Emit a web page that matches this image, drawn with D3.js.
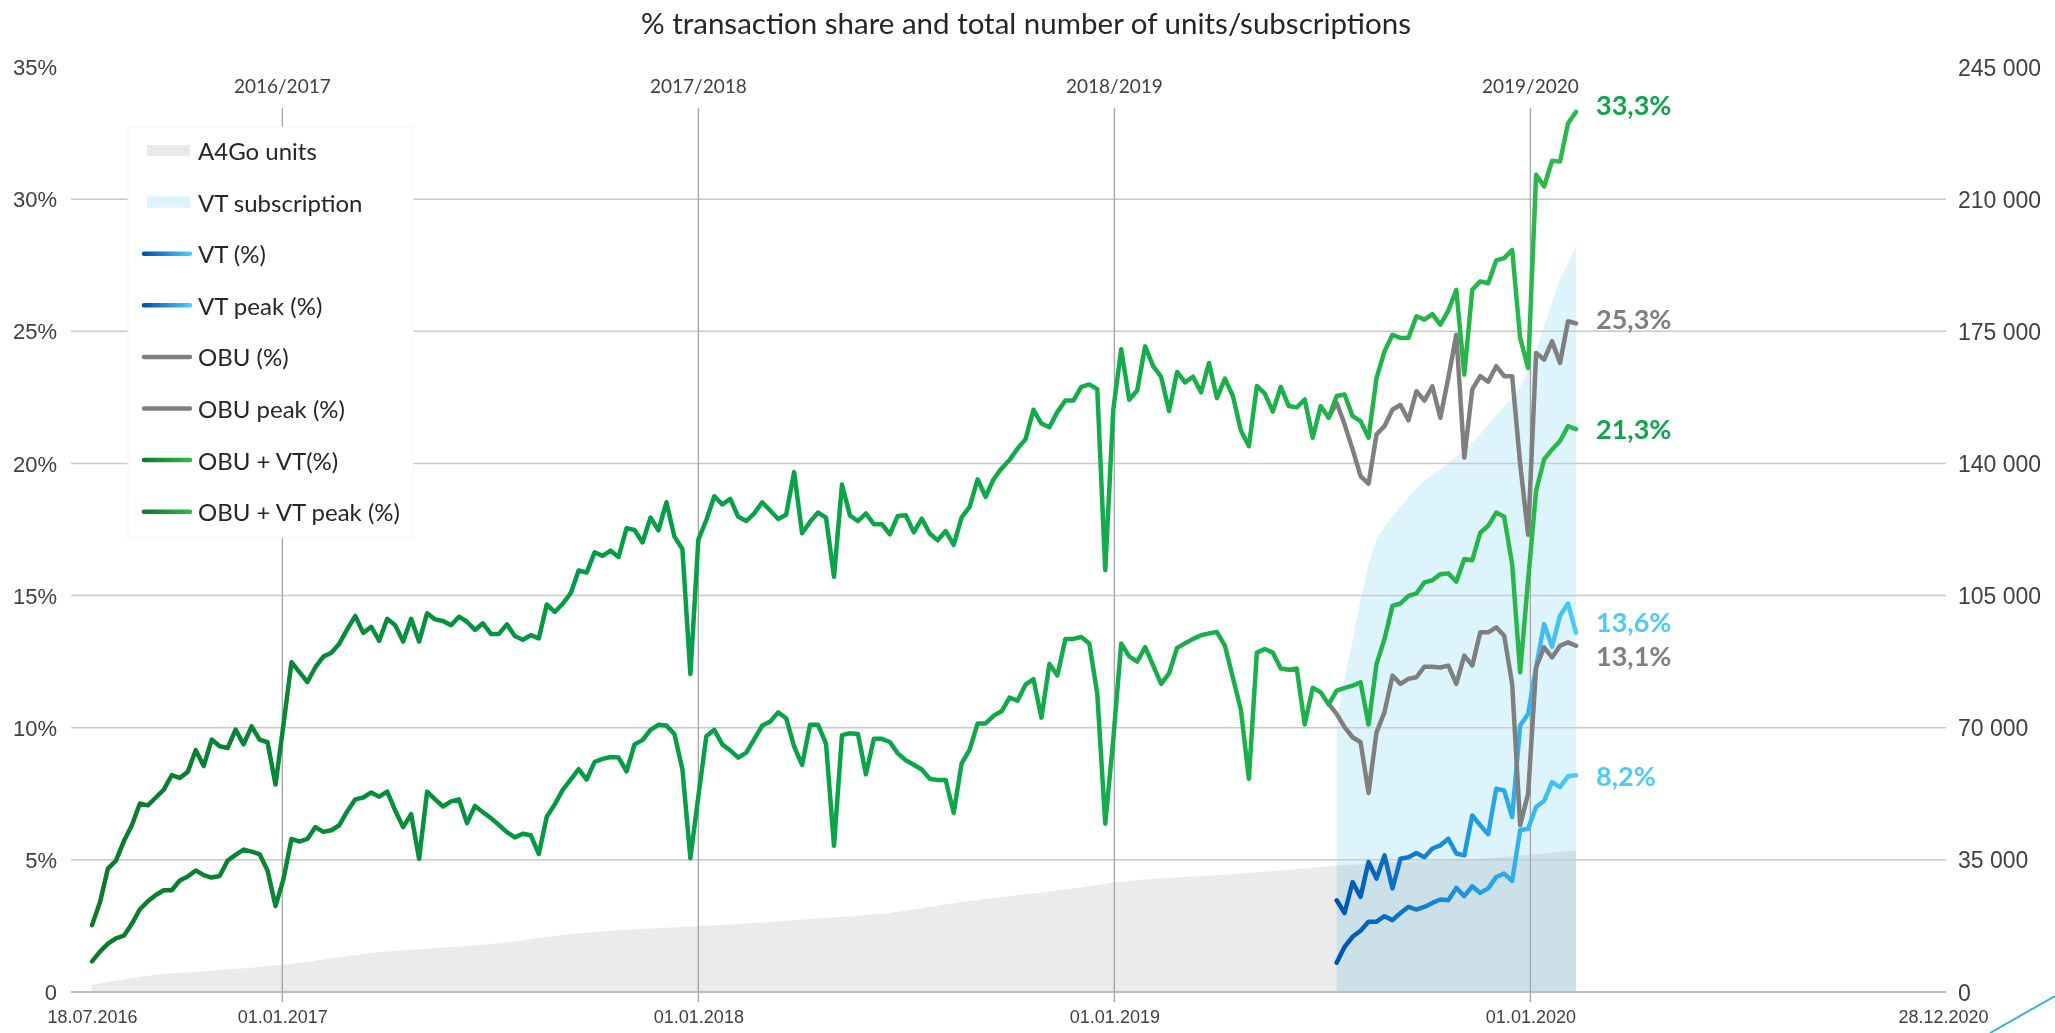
<!DOCTYPE html>
<html lang="en">
<head>
<meta charset="UTF-8">
<title>% transaction share and total number of units/subscriptions</title>
<script src="https://d3js.org/d3.v7.min.js"></script>
<style>
  body { margin: 0; background: #fff; }
  svg { display: block; font-family: Lato, "Open Sans", sans-serif; }
  .grid { stroke: #c9c9c9; stroke-width: 1.5; }
  .yearline { stroke: #a8a8a8; stroke-width: 1.4; }
  .series { fill: none; stroke-width: 4.5; stroke-linejoin: round; stroke-linecap: round; }
  .axis text { fill: #404040; }
  .legend text { fill: #262626; font-size: 24px; }
</style>
</head>
<body>
<div id="chart"></div>
<script>
// weekly series, week 0 = 18.07.2016 (Monday), values in %
const obuVtPeak = [
  2.53, 3.40, 4.67, 4.97, 5.71, 6.31, 7.13, 7.06, 7.36, 7.66,
  8.21, 8.10, 8.33, 9.15, 8.55, 9.55, 9.30, 9.23, 9.93, 9.37,
  10.05, 9.55, 9.45, 7.85, 10.12, 12.48, 12.10, 11.73, 12.29, 12.69,
  12.84, 13.18, 13.73, 14.23, 13.59, 13.82, 13.29, 14.12, 13.88, 13.26,
  14.12, 13.26, 14.33, 14.10, 14.04, 13.88, 14.20, 14.01, 13.70, 13.95,
  13.55, 13.55, 13.91, 13.47, 13.33, 13.50, 13.38, 14.66, 14.38, 14.69,
  15.09, 15.95, 15.87, 16.64, 16.50, 16.70, 16.46, 17.55, 17.48, 17.01,
  17.95, 17.47, 18.53, 17.23, 16.76, 12.03, 17.12, 17.86, 18.76, 18.45,
  18.66, 17.98, 17.82, 18.11, 18.53, 18.22, 17.90, 18.06, 19.67, 17.36,
  17.79, 18.14, 17.95, 15.71, 19.20, 18.03, 17.82, 18.11, 17.70, 17.70,
  17.32, 18.01, 18.04, 17.39, 17.91, 17.35, 17.09, 17.44, 16.92, 17.96,
  18.36, 19.40, 18.74, 19.40, 19.81, 20.13, 20.56, 20.91, 22.03, 21.51,
  21.37, 21.95, 22.38, 22.38, 22.90, 22.99, 22.81, 15.96, 22.03, 24.32,
  22.41, 22.76, 24.43, 23.68, 23.28, 21.98, 23.46, 23.07, 23.28, 22.69,
  23.80, 22.47, 23.21, 22.55, 21.25, 20.65, 22.93, 22.64, 21.96, 22.90,
  22.17, 22.12, 22.42, 20.97, 22.17, 21.73, 22.55, 22.61, 21.79, 21.60,
  20.97, 23.24, 24.24, 24.87, 24.75, 24.75, 25.57, 25.44, 25.65, 25.25,
  25.78, 26.57, 23.36, 26.57, 26.89, 26.82, 27.68, 27.77, 28.08, 24.75,
  23.61, 30.92, 30.48, 31.45, 31.42, 32.87, 33.3
];
const obuVt = [
  1.16, 1.53, 1.83, 2.03, 2.13, 2.58, 3.13, 3.43, 3.67, 3.85,
  3.85, 4.22, 4.37, 4.60, 4.42, 4.33, 4.39, 4.97, 5.19, 5.39,
  5.31, 5.22, 4.60, 3.25, 4.27, 5.79, 5.69, 5.79, 6.24, 6.06,
  6.12, 6.31, 6.84, 7.29, 7.36, 7.55, 7.39, 7.58, 6.87, 6.24,
  6.73, 5.04, 7.58, 7.29, 7.02, 7.21, 7.29, 6.39, 7.04, 6.80,
  6.58, 6.32, 6.05, 5.85, 5.99, 5.93, 5.22, 6.63, 7.10, 7.65,
  8.04, 8.43, 8.04, 8.71, 8.82, 8.89, 8.87, 8.35, 9.37, 9.53,
  9.92, 10.11, 10.08, 9.76, 8.43, 5.06, 7.41, 9.68, 9.92, 9.37,
  9.14, 8.87, 9.06, 9.57, 10.08, 10.23, 10.58, 10.36, 9.29, 8.59,
  10.11, 10.11, 9.40, 5.53, 9.72, 9.79, 9.76, 8.24, 9.58, 9.58,
  9.46, 9.03, 8.77, 8.60, 8.42, 8.07, 8.02, 8.02, 6.78, 8.65,
  9.17, 10.16, 10.16, 10.45, 10.62, 11.14, 11.02, 11.63, 11.84, 10.38,
  12.41, 11.98, 13.36, 13.36, 13.43, 13.19, 11.28, 6.37, 9.55, 13.19,
  12.70, 12.50, 13.05, 12.36, 11.66, 12.06, 13.02, 13.19, 13.36, 13.50,
  13.57, 13.62, 13.10, 11.89, 10.68, 8.07, 12.84, 12.98, 12.84, 12.24,
  12.19, 12.24, 10.12, 11.51, 11.34, 10.88, 11.40, 11.51, 11.59, 11.72,
  10.12, 12.41, 13.36, 14.61, 14.70, 14.99, 15.08, 15.50, 15.58, 15.81,
  15.84, 15.53, 16.38, 16.34, 17.38, 17.64, 18.14, 17.98, 16.19, 12.10,
  15.60, 18.96, 20.15, 20.53, 20.85, 21.41, 21.3
];

// OBU series start at week 155, VT series at week 156
const obuStart = 155;
const obuPeak = [
  21.73, 22.30, 21.48, 20.53, 19.52, 19.23, 21.10, 21.41, 22.04, 22.21,
  21.63, 22.73, 22.38, 22.92, 21.73, 23.24, 24.87, 20.22, 22.80, 23.30,
  23.09, 23.68, 23.30, 23.30, 20.00, 17.30, 24.18, 23.93, 24.62, 23.80,
  25.38, 25.3
];
const obu = [
  10.90, 10.52, 10.02, 9.64, 9.45, 7.53, 9.83, 10.59, 11.97, 11.66,
  11.85, 11.91, 12.31, 12.31, 12.28, 12.35, 11.66, 12.73, 12.35, 13.61,
  13.61, 13.80, 13.48, 11.66, 6.31, 7.50, 12.28, 13.04, 12.66, 13.10,
  13.23, 13.1
];
const vtStart = 156;
const vtPeak = [
  3.47, 2.99, 4.16, 3.60, 4.92, 4.29, 5.17, 3.92, 5.04, 5.10,
  5.26, 5.10, 5.43, 5.55, 5.80, 5.24, 5.17, 6.68, 6.31, 5.97,
  7.69, 7.63, 6.62, 10.08, 10.52, 12.28, 13.92, 13.07, 14.24, 14.70,
  13.6
];
const vt = [
  1.11, 1.71, 2.09, 2.32, 2.66, 2.66, 2.87, 2.72, 2.99, 3.22,
  3.12, 3.22, 3.37, 3.50, 3.47, 3.94, 3.63, 4.00, 3.75, 3.92,
  4.35, 4.48, 4.20, 6.12, 6.18, 7.00, 7.23, 7.94, 7.75, 8.16,
  8.2
];

// right axis: number of units / subscriptions
const vtSubscriptions = [
  72000, 83000, 93000, 104000, 113000, 120000, 123000, 126000, 128500, 131000,
  133500, 135500, 137000, 138400, 140000, 141800, 143800, 145600, 147800, 150200,
  152700, 155000, 157600, 160300, 164500, 170000, 176300, 182700, 189000, 193000,
  197500
];
// A4Go units, read every 4th week (last one at week 186)
const a4goWeeks = d3.range(0, 185, 4).concat([186]);
const a4goUnits = [
  1900, 3300, 4600, 5200, 5800, 6400, 7200, 8300, 9500, 10500,
  11200, 11800, 12300, 13100, 14300, 15300, 16000, 16600, 17000, 17400,
  17900, 18400, 19000, 19600, 20200, 20900, 22200, 23500, 24600, 25600,
  26600, 27700, 29000, 29800, 30300, 30800, 31400, 32000, 32700, 33500,
  34000, 34400, 34700, 35000, 35600, 36300, 37100, 37500
];

const pctTicks = [0, 5, 10, 15, 20, 25, 30, 35];
const unitTicks = [0, 35000, 70000, 105000, 140000, 175000, 210000, 245000];
const dateTicks = ["2016-07-18", "2017-01-01", "2018-01-01", "2019-01-01", "2020-01-01", "2020-12-28"];
const yearLines = ["2017-01-01", "2018-01-01", "2019-01-01", "2020-01-01"];
const seasonLabels = ["2016/2017", "2017/2018", "2018/2019", "2019/2020"];

const W = 2055, H = 1033;
const parse = d3.timeParse("%Y-%m-%d");
const week0 = parse("2016-07-18");
const weekDate = k => d3.timeDay.offset(week0, 7 * k);
const points = (vals, start) => vals.map((v, i) => ({ date: weekDate(start + i), v }));

const x = d3.scaleTime().domain([parse("2016-07-18"), parse("2020-12-28")]).range([92, 1943]);
const yPct = d3.scaleLinear().domain([0, 35]).range([992, 67]);
const yUnits = d3.scaleLinear().domain([0, 245000]).range([992, 67]);

const svg = d3.select("#chart").append("svg")
  .attr("width", W).attr("height", H);

// gradients for the coloured lines
const defs = svg.append("defs");
function gradient(id, stops, x1, x2) {
  const g = defs.append("linearGradient").attr("id", id);
  if (x1 !== undefined) {
    g.attr("gradientUnits", "userSpaceOnUse").attr("x1", x1).attr("x2", x2).attr("y1", 0).attr("y2", 0);
  }
  stops.forEach(s => g.append("stop").attr("offset", s[0]).attr("stop-color", s[1]));
}
const greenStops = [[0, "#0b7a2c"], [0.35, "#049c48"], [0.65, "#12aa4b"], [1, "#2cb84b"]];
const blueStops = [[0, "#0052b2"], [0.55, "#1d98de"], [1, "#4ccbf7"]];
gradient("greenGrad", greenStops, x(weekDate(0)), x(weekDate(obuVtPeak.length - 1)));
gradient("blueGrad", blueStops, x(weekDate(vtStart)), x(weekDate(vtStart + vt.length - 1)));
gradient("greenSwatch", [[0, "#0b7a2c"], [1, "#2cb84b"]]);
gradient("blueSwatch", [[0, "#0052b2"], [1, "#4ccbf7"]]);

// title
svg.append("text")
  .attr("x", 1026).attr("y", 22)
  .attr("text-anchor", "middle").attr("dominant-baseline", "central")
  .style("font-size", "29.5px").style("fill", "#262626")
  .text("% transaction share and total number of units/subscriptions");

// areas (right axis)
const area = d3.area().x(d => x(d.date)).y0(yUnits(0)).y1(d => yUnits(d.v));
svg.append("path")
  .datum(points(vtSubscriptions, vtStart))
  .attr("fill", "#ddf4fd")
  .attr("d", area);
svg.append("path")
  .datum(a4goWeeks.map((w, i) => ({ date: weekDate(w), v: a4goUnits[i] })))
  .attr("fill", "#ebebeb")
  .style("mix-blend-mode", "multiply")
  .attr("d", area);

// horizontal grid
svg.append("g").selectAll("line")
  .data(pctTicks.filter(t => t > 0 && t < 35))
  .join("line")
  .attr("class", "grid")
  .attr("x1", 71).attr("x2", 1946)
  .attr("y1", d => yPct(d)).attr("y2", d => yPct(d));
svg.append("line")
  .attr("x1", 71).attr("x2", 1946)
  .attr("y1", yPct(0)).attr("y2", yPct(0))
  .attr("stroke", "#bdbdbd").attr("stroke-width", 2);

// year separators with season labels
svg.append("g").selectAll("line")
  .data(yearLines)
  .join("line")
  .attr("class", "yearline")
  .attr("x1", d => x(parse(d))).attr("x2", d => x(parse(d)))
  .attr("y1", 108).attr("y2", 1002);
svg.append("g").selectAll("text")
  .data(seasonLabels)
  .join("text")
  .attr("x", (d, i) => x(parse(yearLines[i])))
  .attr("y", 85)
  .attr("text-anchor", "middle").attr("dominant-baseline", "central")
  .style("font-size", "19px").style("fill", "#404040")
  .text(d => d);

// axes
const leftAxis = svg.append("g").attr("class", "axis")
  .attr("transform", "translate(57,0)")
  .call(d3.axisLeft(yPct).tickValues(pctTicks).tickSize(0).tickPadding(0)
    .tickFormat(d => d === 0 ? "0" : d + "%"));
leftAxis.select(".domain").remove();
leftAxis.selectAll("text").style("font-size", "22px").attr("dy", "0.35em");

const spaceFmt = d3.formatLocale({ decimal: ",", thousands: " ", grouping: [3], currency: ["", ""] }).format(",d");
const rightAxis = svg.append("g").attr("class", "axis")
  .attr("transform", "translate(1958,0)")
  .call(d3.axisRight(yUnits).tickValues(unitTicks).tickSize(0).tickPadding(0).tickFormat(spaceFmt));
rightAxis.select(".domain").remove();
rightAxis.selectAll("text").style("font-size", "23px").attr("dy", "0.35em");

const bottomAxis = svg.append("g").attr("class", "axis")
  .attr("transform", "translate(0,1010)")
  .call(d3.axisBottom(x).tickValues(dateTicks.map(parse)).tickSize(0).tickPadding(0)
    .tickFormat(d3.timeFormat("%d.%m.%Y")));
bottomAxis.select(".domain").remove();
bottomAxis.selectAll("text").style("font-size", "18px").attr("dy", "0.71em");

// lines: VT below OBU below OBU + VT
const line = d3.line().x(d => x(d.date)).y(d => yPct(d.v));
const seriesList = [
  { vals: vt, start: vtStart, stroke: "url(#blueGrad)" },
  { vals: vtPeak, start: vtStart, stroke: "url(#blueGrad)" },
  { vals: obu, start: obuStart, stroke: "#7f7f7f" },
  { vals: obuPeak, start: obuStart, stroke: "#7f7f7f" },
  { vals: obuVt, start: 0, stroke: "url(#greenGrad)" },
  { vals: obuVtPeak, start: 0, stroke: "url(#greenGrad)" }
];
seriesList.forEach(s => {
  svg.append("path")
    .datum(points(s.vals, s.start))
    .attr("class", "series")
    .attr("stroke", s.stroke)
    .attr("d", line);
});

// end value labels
const endLabels = [
  { vals: obuVtPeak, color: "#0fa34c", dy: -7 },
  { vals: obuPeak, color: "#7f7f7f", dy: -5 },
  { vals: obuVt, color: "#0fa34c", dy: -1 },
  { vals: vtPeak, color: "#4ccbf5", dy: -11 },
  { vals: obu, color: "#7f7f7f", dy: 10 },
  { vals: vt, color: "#4ccbf5", dy: 0 }
];
svg.append("g").selectAll("text")
  .data(endLabels)
  .join("text")
  .attr("x", 1596)
  .attr("y", d => yPct(d.vals[d.vals.length - 1]) + d.dy)
  .attr("dominant-baseline", "central")
  .style("font-size", "27px").style("font-weight", "bold")
  .style("fill", d => d.color)
  .text(d => d3.format(".1f")(d.vals[d.vals.length - 1]).replace(".", ",") + "%");

// legend
const legendItems = [
  { name: "A4Go units", type: "rect", fill: "#e9e9e9" },
  { name: "VT subscription", type: "rect", fill: "#ddf4fd" },
  { name: "VT (%)", type: "line", stroke: "url(#blueSwatch)" },
  { name: "VT peak (%)", type: "line", stroke: "url(#blueSwatch)" },
  { name: "OBU (%)", type: "line", stroke: "#7f7f7f" },
  { name: "OBU peak (%)", type: "line", stroke: "#7f7f7f" },
  { name: "OBU + VT(%)", type: "line", stroke: "url(#greenSwatch)" },
  { name: "OBU + VT peak (%)", type: "line", stroke: "url(#greenSwatch)" }
];
const legend = svg.append("g").attr("class", "legend");
legend.append("rect")
  .attr("x", 128).attr("y", 127).attr("width", 285).attr("height", 411)
  .attr("fill", "#fff").attr("stroke", "#f5f5f5");
legendItems.forEach((item, i) => {
  const cy = 150.5 + i * 51.6;
  const row = legend.append("g");
  if (item.type === "rect") {
    row.append("rect")
      .attr("x", 147).attr("y", cy - 5.5).attr("width", 43).attr("height", 11)
      .attr("fill", item.fill);
  } else {
    row.append("line")
      .attr("x1", 144).attr("x2", 190).attr("y1", cy).attr("y2", cy + 0.01)
      .attr("stroke", item.stroke).attr("stroke-width", 4.5).attr("stroke-linecap", "round");
  }
  row.append("text")
    .attr("x", 198).attr("y", cy)
    .attr("dominant-baseline", "central")
    .text(item.name);
});

// corner accent
svg.append("line")
  .attr("x1", 1990).attr("y1", 1033).attr("x2", 2055).attr("y2", 996)
  .attr("stroke", "#3ab0d8").attr("stroke-width", 2);
</script>
</body>
</html>
